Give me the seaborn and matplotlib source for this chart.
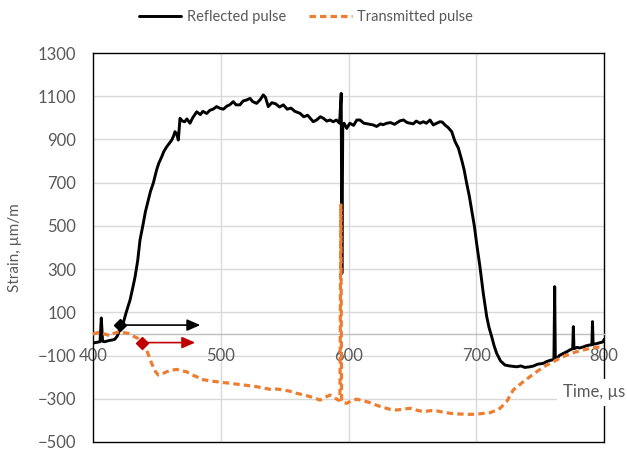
import numpy as np
import pandas as pd
import matplotlib
matplotlib.use("Agg")
import matplotlib.pyplot as plt
import seaborn as sns

# ---- data ----
refl_t = [400, 402, 404, 405.5, 406.5, 407.5, 409, 411, 413, 415, 417, 419, 421, 423.7, 426, 429, 431, 432.9,
          435, 436.8, 439.4, 441, 443.3, 445, 447.2, 449.8, 451.5, 453.8, 455.5, 457.7, 459.5, 461.6, 463, 464.2,
          465.5, 466.8, 468.1, 470, 471.8, 473.5, 475.9, 478, 481.2, 484, 486, 489, 491.5, 494, 496.8, 499, 502,
          505, 507, 509.8, 512, 515, 517.5, 520, 522.9, 525, 528.1, 531, 533.3, 535, 537.2, 540, 543, 546, 549,
          552, 555, 558, 562, 565, 568, 572.4, 575, 578, 580.3, 583, 585.5, 588.1, 590.5, 593, 594.3, 594.8,
          595.5, 596.5, 598.6, 601, 604, 606.5, 609, 612, 615, 619.4, 622, 625, 627, 629.9, 633, 636, 640.3, 643,
          646, 650.7, 653, 656, 658.6, 661, 663.8, 666.4, 669, 671.6, 673.5, 675.5, 678, 680.8, 683.4, 686, 688.6,
          690.5, 692.5, 694.5, 696.4, 698.5, 700.3, 702.9, 705.5, 708.2, 710, 712.1, 714, 716, 719, 722.5, 726,
          729, 731.7, 735, 738, 742, 745, 748, 752.5, 755, 758, 760.8, 761.4, 761.9, 763, 765, 768.1, 771, 773,
          775.5, 776, 776.5, 779, 781, 783.8, 786, 788, 790.5, 791, 791.5, 794, 796, 799.5, 800]
refl_v = [-42, -40, -38, -36, 74, -34, -36, -33, -30, -28, -25, -10, 20, 51, 100, 157, 210, 263,
          340, 435, 513, 565, 620, 660, 698, 759, 790, 820, 845, 866, 880, 897, 915, 936,
          925, 897, 998, 985, 982, 995, 975, 1000, 1028, 1015, 1030, 1020, 1035, 1040, 1052, 1045, 1040,
          1055, 1060, 1075, 1060, 1060, 1078, 1082, 1090, 1075, 1067, 1085, 1106, 1095, 1052, 1070, 1065, 1050, 1060,
          1040, 1045, 1030, 1021, 1005, 1012, 982, 990, 1005, 998, 985, 990, 982, 990, 975, 1113, 280,
          960, 975, 951, 975, 965, 990, 990, 975, 972, 967, 960, 972, 968, 975, 978, 970, 986, 990,
          978, 972, 985, 975, 982, 975, 990, 967, 975, 982, 980, 967, 955, 936, 890, 860, 805,
          760, 697, 640, 573, 500, 419, 311, 188, 80, 30, -13, -55, -90, -125, -144, -148,
          -150, -152, -148, -155, -152, -148, -140, -136, -128, -122, -118, 219, -118, -115, -100, -90, -82, -75,
          -68, 34, -68, -62, -65, -60, -55, -52, -50, 57, -48, -45, -42, -36, -25]

trans_t = [400, 403, 405, 407, 410, 413, 416, 419, 422, 425, 428, 431.6, 435, 438, 442, 445.9, 449, 451.1,
           454, 457.7, 461, 465.5, 469, 473.3, 477, 481.2, 484.5, 487.7, 492, 496.8, 502, 507.2, 512, 517.7,
           523, 528.1, 533, 538.6, 544, 549, 554, 559.5, 565, 569.9, 574, 577.7, 581, 585.5, 589, 592, 593.3,
           594, 594.6, 596, 598.6, 602, 606.4, 611, 616.8, 622, 627.2, 632, 637.7, 643, 648.1, 653, 658.6, 664,
           669, 674, 679.5, 684.5, 689.9, 695, 700.3, 705, 710.8, 715, 718.6, 721, 723.8, 726.5, 729, 733,
           736.8, 742, 747.3, 752, 757.7, 763, 768.1, 773, 778.6, 784, 789, 794, 799.5, 800]
trans_v = [0, 5, 8, 3, -2, -8, 2, 8, 8, 5, 2, -10, -20, -40, -75, -136, -175, -190,
           -185, -175, -168, -164, -170, -175, -188, -198, -210, -213, -218, -221, -225, -228, -232, -236,
           -240, -244, -250, -256, -255, -259, -265, -275, -282, -290, -298, -306, -295, -283, -295, -306, -306,
           597, -310, -318, -321, -310, -302, -308, -318, -330, -340, -348, -352, -348, -344, -352, -360, -355,
           -356, -362, -367, -370, -371, -372, -371, -368, -364, -355, -344, -330, -313, -285, -259, -240,
           -221, -198, -175, -155, -136, -120, -105, -93, -82, -74, -67, -62, -59, -58]

refl_marker = (421, 41)
refl_arrow_end = 484
trans_marker = (438, -40)
trans_arrow_end = 480

x_ticks = [400, 500, 600, 700, 800]
y_ticks = [-500, -300, -100, 100, 300, 500, 700, 900, 1100, 1300]

# ---- plot ----
sns.set_style("white")
plt.rcParams['font.family'] = ['Lato', 'DejaVu Sans']

fig = plt.figure(figsize=(6.27, 4.57), dpi=100)
ax = fig.add_axes([93/627, 1-442/457, (604-93)/627, (442-53)/457])

GRID = "#d9d9d9"
TXT = "#595959"
ORANGE = "#ED7D31"

df_r = pd.DataFrame({"t": refl_t, "v": refl_v})
df_t = pd.DataFrame({"t": trans_t, "v": trans_v})

sns.lineplot(data=df_r, x="t", y="v", ax=ax, color="black", lw=2.1, sort=False,
             estimator=None, label="Reflected pulse", zorder=3)
sns.lineplot(data=df_t, x="t", y="v", ax=ax, color=ORANGE, lw=2.3, sort=False,
             estimator=None, label="Transmitted pulse", zorder=4)
ax.lines[1].set_dashes((2.0, 1.3))

ax.set_xlim(400, 800)
ax.set_ylim(-500, 1300)
ax.set_xticks(x_ticks)
ax.set_yticks(y_ticks)
ax.set_xticks(np.arange(400, 801, 10), minor=True)

# grid
for y in y_ticks[1:-1]:
    ax.axhline(y, color=GRID, lw=1, zorder=0)
for x in x_ticks[1:-1]:
    ax.axvline(x, color=GRID, lw=1, zorder=0)

# spines
for s in ["left", "right", "top"]:
    ax.spines[s].set_color("black")
    ax.spines[s].set_linewidth(1.0)
ax.spines["bottom"].set_position(("data", 0))
ax.spines["bottom"].set_color("#bfbfbf")
ax.spines["bottom"].set_linewidth(1.0)
ax.axhline(-500, color="black", lw=1.0, clip_on=False, zorder=5)

ax.tick_params(axis="x", which="both", direction="in", length=4, width=1, color="#bfbfbf",
               labelsize=12, labelcolor=TXT, pad=10)
ax.tick_params(axis="y", length=0, labelsize=12, labelcolor=TXT, pad=12)

ax.set_xlabel("")
ax.set_ylabel("Strain, µm/m", fontsize=11, color=TXT, va="center")
ax.yaxis.set_label_coords((15-93)/511, 0.5)

# arrows and markers
ax.annotate("", xy=(refl_arrow_end, refl_marker[1]), xytext=refl_marker,
            arrowprops=dict(arrowstyle="-|>,head_length=0.8,head_width=0.35", color="black", lw=1.2,
                            shrinkA=0, shrinkB=0), zorder=6)
ax.plot([refl_marker[0]], [refl_marker[1]], marker="D", color="black", ms=6, zorder=6)
ax.annotate("", xy=(trans_arrow_end, trans_marker[1]), xytext=trans_marker,
            arrowprops=dict(arrowstyle="-|>,head_length=0.8,head_width=0.35", color="#C00000", lw=1.2,
                            shrinkA=0, shrinkB=0), zorder=6)
ax.plot([trans_marker[0]], [trans_marker[1]], marker="D", color="#C00000", ms=6, zorder=6)

# time label
fig.text(625/627, 1-392/457, "Time, µs", ha="right", va="center", fontsize=12, color=TXT,
         bbox=dict(facecolor="white", edgecolor="none", pad=4), zorder=10)

# legend
ax.legend_.remove()
handles, labels = ax.get_legend_handles_labels()
fig.legend(handles, labels, loc="center", bbox_to_anchor=(306/627, 1-17/457), ncol=2, frameon=False,
           fontsize=10.5, labelcolor=TXT, handlelength=2.9, columnspacing=1.6, handletextpad=0.4)

fig.savefig("out.png", dpi=100)
